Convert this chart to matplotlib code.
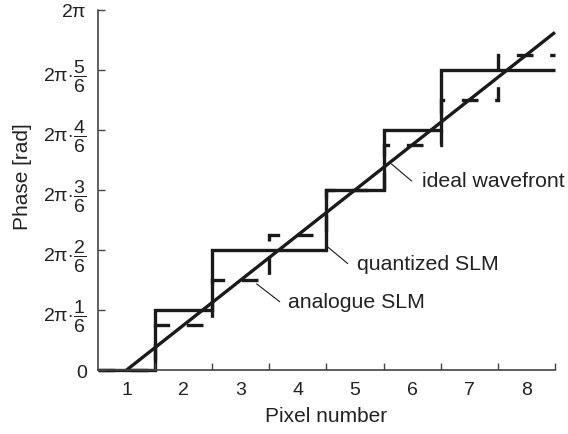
import matplotlib.pyplot as plt
plt.switch_backend('agg')
import numpy as np

plt.rcParams['font.family'] = ['Liberation Sans', 'DejaVu Sans']
plt.rcParams['mathtext.fontset'] = 'custom'
plt.rcParams['mathtext.rm'] = 'Liberation Sans'
plt.rcParams['mathtext.it'] = 'Liberation Sans'
plt.rcParams['mathtext.sf'] = 'Liberation Sans'

# pixel centres and pixel boundaries
pixels = [1, 2, 3, 4, 5, 6, 7, 8]
pixel_edges = [0.5, 1.5, 2.5, 3.5, 4.5, 5.5, 6.5, 7.5, 8.5]

# phase of each pixel, as a fraction of 2*pi
quantized_sixths = [0, 1, 2, 2, 3, 4, 5, 5]
analogue_frac = [0.0, 0.125, 0.25, 0.375, 0.5, 0.625, 0.75, 0.875]

# ideal linear wavefront (fraction of 2*pi)
ideal_px = [1.0, 8.5]
ideal_frac = [0.0, 0.9375]

ytick_labels = ['0',
                r'$2\pi\!\cdot\!\dfrac{1}{6}$', r'$2\pi\!\cdot\!\dfrac{2}{6}$',
                r'$2\pi\!\cdot\!\dfrac{3}{6}$', r'$2\pi\!\cdot\!\dfrac{4}{6}$',
                r'$2\pi\!\cdot\!\dfrac{5}{6}$', r'$2\pi$']

TWO_PI = 2 * np.pi
ink = '#1a1a1a'
lw = 2.4

fig = plt.figure(figsize=(5.68, 4.35), dpi=100)
ax = fig.add_axes([0.1725, 0.147, 0.8045, 0.828])

quantized = np.array(quantized_sixths) / 6 * TWO_PI
analogue = np.array(analogue_frac) * TWO_PI

ax.stairs(analogue, pixel_edges, baseline=None, color=ink, lw=lw,
          linestyle=(0, (5, 5)), clip_on=False)
ax.stairs(quantized, pixel_edges, baseline=None, color=ink, lw=lw, clip_on=False)
ax.plot(ideal_px, np.array(ideal_frac) * TWO_PI, color=ink, lw=lw,
        solid_capstyle='butt', clip_on=False)

# leader lines and labels
labels = [('ideal wavefront', (5.64, 0.572), (5.99, 0.525), 6.18),
          ('quantized SLM', (4.52, 0.342), (4.87, 0.296), 5.03),
          ('analogue SLM', (3.28, 0.239), (3.68, 0.190), 3.82)]
for text, (x0, y0), (x1, y1), tx in labels:
    ax.plot([x0, x1], [y0 * TWO_PI, y1 * TWO_PI], color=ink, lw=0.8)
    ax.text(tx, y1 * TWO_PI, text, fontsize=15.3, ha='left', va='center', color='#222222')

ax.set_xlim(0.5, 8.5)
ax.set_ylim(0, TWO_PI)

ax.set_xticks(pixels)
ax.set_xticklabels([str(p) for p in pixels])
ax.set_xticks(pixel_edges[1:], minor=True)
ax.tick_params(axis='x', which='major', length=0, pad=8, labelsize=14, colors='#222222')
ax.tick_params(axis='x', which='minor', direction='in', length=5, width=1, color='#444444')

ax.set_yticks(np.arange(7) / 6 * TWO_PI)
ax.set_yticklabels(ytick_labels)
ax.tick_params(axis='y', direction='in', length=5, width=1, color='#444444',
               labelsize=14, pad=8, labelcolor='#222222')

for side in ['top', 'right']:
    ax.spines[side].set_visible(False)
for side in ['left', 'bottom']:
    ax.spines[side].set_color('#444444')
    ax.spines[side].set_linewidth(1.2)

ax.set_xlabel('Pixel number', fontsize=15, color='#222222', labelpad=6)
ax.set_ylabel('Phase [rad]', fontsize=15, color='#222222', labelpad=6)
ax.yaxis.set_label_coords(-0.145, 0.54)

plt.savefig('out.png', dpi=100)
